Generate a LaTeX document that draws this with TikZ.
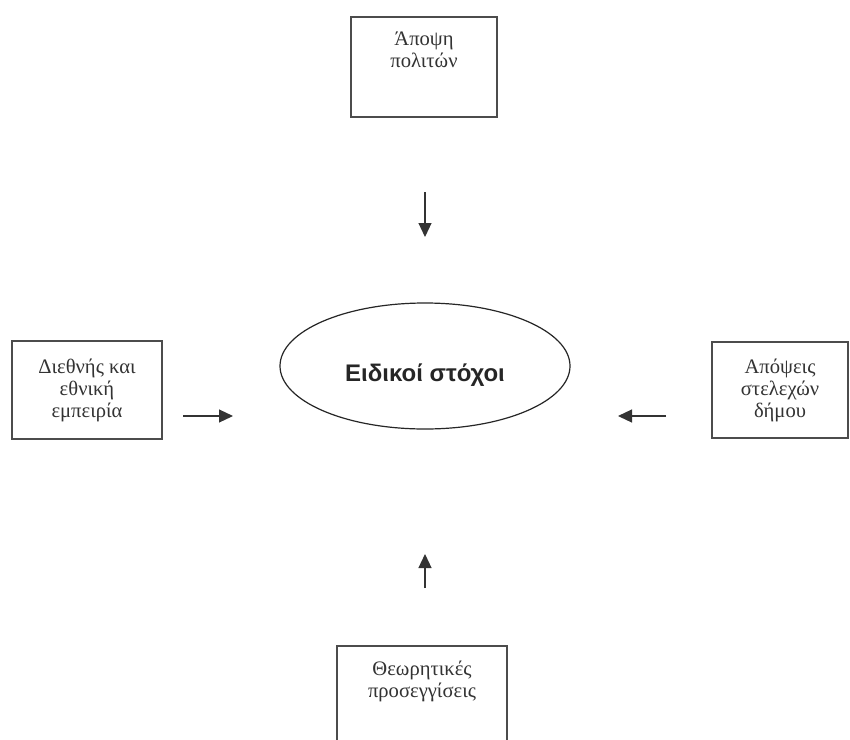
\documentclass[tikz,border=0pt]{standalone}
\usepackage{fontspec}
\setmainfont{Liberation Serif}
\newfontfamily\goalfont{Liberation Sans}
\usetikzlibrary{positioning,shapes.geometric,arrows.meta}

\tikzset{
  srcbox/.style={draw=black!70,line width=0.8pt,rectangle,inner sep=0pt},
  srctext/.style={align=center,inner sep=0pt,text=black!80,
    font=\fontsize{10.3}{11}\selectfont},
  goal/.style={draw=black!85,line width=0.6pt,ellipse,inner sep=0pt,
    minimum width=145pt,minimum height=63pt},
  goaltext/.style={text=black!85,inner sep=0pt,font=\goalfont\bfseries\fontsize{12}{14}\selectfont},
  inarrow/.style={draw=black!80,line width=0.6pt,-{Triangle[length=7pt,width=6.5pt]}}
}

\begin{document}
\begin{tikzpicture}[x=0.5pt,y=-0.5pt]
  \clip (0,0) rectangle (850,739);
  \fill[white] (0,0) rectangle (850,739);

  \node[goal,label={[goaltext,yshift=-4.5pt]center:Ειδικοί στόχοι}] (goal) at (425,366) {};

  \node[srcbox,minimum width=73pt,minimum height=50pt] (citizens) at (424,67) {};
  \node[srctext,below=7.5pt of citizens.north] (citizenstxt) {Άποψη\\πολιτών};

  \node[srcbox,srctext,minimum width=75pt,minimum height=49pt] (experience) at (87,390)
    {Διεθνής και\\εθνική\\εμπειρία};

  \node[srcbox,srctext,minimum width=68pt,minimum height=48pt] (staff) at (780,390)
    {Απόψεις\\στελεχών\\δήμου};

  \node[srcbox,minimum width=85pt,minimum height=50pt] (theory) at (422,696) {};
  \node[srctext,below=7.5pt of theory.north] (theorytxt) {Θεωρητικές\\προσεγγίσεις};

  \coordinate (topA) at (425,192);
  \coordinate (topB) at (425,237);
  \coordinate (botA) at (425,588);
  \coordinate (botB) at (425,554);
  \coordinate (leftA) at (183,416);
  \coordinate (leftB) at (233,416);
  \coordinate (rightA) at (666,416);
  \coordinate (rightB) at (618,416);

  \draw[inarrow] (topA) -- (topB);
  \draw[inarrow] (botA) -- (botB);
  \draw[inarrow] (leftA) -- (leftB);
  \draw[inarrow] (rightA) -- (rightB);
\end{tikzpicture}
\end{document}
